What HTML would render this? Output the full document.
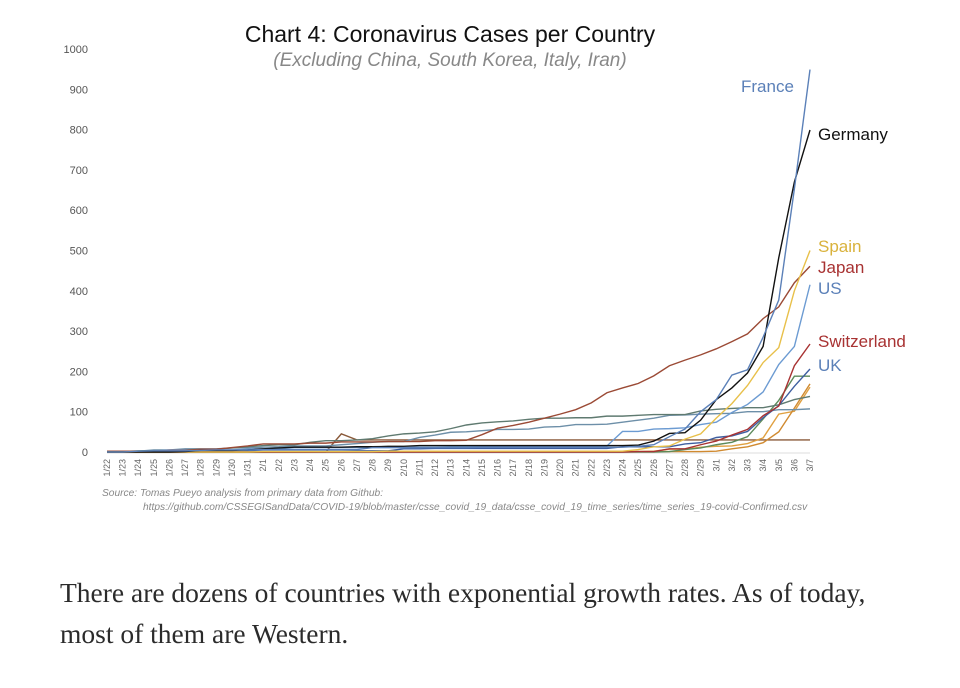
<!DOCTYPE html>
<html><head><meta charset="utf-8"><style>
html,body{margin:0;padding:0;background:#fff;width:960px;height:688px;overflow:hidden}
svg{position:absolute;left:0;top:0}
.body{position:absolute;left:60px;top:572px;width:900px;font-family:"Liberation Serif",serif;font-size:27.5px;line-height:41px;color:#2b2b2b;white-space:nowrap}
</style></head><body>
<svg id="chart" width="960" height="540"></svg>
<div class="body">There are dozens of countries with exponential growth rates. As of today,<br>most of them are Western.</div>
<script>
const dates=["1/22","1/23","1/24","1/25","1/26","1/27","1/28","1/29","1/30","1/31","2/1","2/2","2/3","2/4","2/5","2/6","2/7","2/8","2/9","2/10","2/11","2/12","2/13","2/14","2/15","2/16","2/17","2/18","2/19","2/20","2/21","2/22","2/23","2/24","2/25","2/26","2/27","2/28","2/29","3/1","3/2","3/3","3/4","3/5","3/6","3/7"];
const yTicks=[0,100,200,300,400,500,600,700,800,900,1000];
const france=[0,0,2,3,3,3,4,5,5,5,6,6,6,6,6,6,6,11,11,11,11,11,11,11,12,12,12,12,12,12,12,12,12,12,14,18,38,57,100,130,191,204,285,377,653,949];
const germany=[0,0,0,0,0,1,4,4,4,5,8,10,12,12,12,12,13,13,14,14,16,16,16,16,16,16,16,16,16,16,16,16,16,16,17,27,46,48,79,130,159,196,262,482,670,799];
const spain=[0,0,0,0,0,0,0,0,0,0,1,1,1,1,1,1,1,1,2,2,2,2,2,2,2,2,2,2,2,2,2,2,2,2,6,13,15,32,45,84,120,165,222,259,400,500];
const japan=[2,2,2,2,4,4,7,7,11,15,20,20,20,22,22,25,25,25,26,26,26,28,28,29,43,59,66,74,84,94,105,122,147,159,170,189,214,228,241,256,274,293,331,360,420,461];
const us=[1,1,2,2,5,5,5,5,5,7,8,8,11,11,11,11,11,11,11,11,12,12,13,13,13,13,13,13,13,13,15,15,15,51,51,57,58,60,68,74,98,118,149,217,262,415];
const switzerland=[0,0,0,0,0,0,0,0,0,0,0,0,0,0,0,0,0,0,0,0,0,0,0,0,0,0,0,0,0,0,0,0,0,0,1,1,8,8,18,27,42,56,90,114,214,268];
const uk=[0,0,0,0,0,0,0,0,0,2,2,2,2,2,2,2,3,3,3,8,8,9,9,9,9,9,9,9,9,9,9,9,9,13,13,13,13,20,23,36,40,51,85,115,163,206];
const singapore=[0,1,3,3,4,5,7,7,10,13,16,18,18,24,28,28,30,33,40,45,47,50,58,67,72,75,77,81,84,84,85,85,89,89,91,93,93,93,102,106,108,110,110,117,130,138];
const hongkong=[0,2,2,5,5,8,8,8,10,10,12,13,15,15,15,18,21,24,26,26,36,42,49,50,53,56,56,57,62,63,68,68,69,74,79,84,91,92,94,95,96,100,100,105,105,107];
const others=[0,0,0,0,0,0,0,0,0,0,0,0,0,0,0,45,30,30,30,30,30,30,30,30,30,30,30,30,30,30,30,30,30,30,30,30,30,30,30,30,30,30,30,30,30,30];
const netherlands=[0,0,0,0,0,0,0,0,0,0,0,0,0,0,0,0,0,0,0,0,0,0,0,0,0,0,0,0,0,0,0,0,0,0,0,0,1,6,10,18,24,38,82,128,188,188];
const belgium=[0,0,0,0,0,0,0,0,0,0,0,0,0,0,1,1,1,1,1,1,1,1,1,1,1,1,1,1,1,1,1,1,1,1,1,1,1,1,1,2,8,13,23,50,109,169];
const sweden=[0,0,0,0,0,0,0,0,0,1,1,1,1,1,1,1,1,1,1,1,1,1,1,1,1,1,1,1,1,1,1,1,1,1,1,2,7,7,12,14,15,21,35,94,101,161];
const svg=document.getElementById('chart');
const NS='http://www.w3.org/2000/svg';
const X0=107,X1=810,Y0=452,Y1=49;
function xs(i){return X0+(X1-X0)*i/(dates.length-1);}
function ys(v){return Y0-(Y0-Y1)*v/1000;}
function mk(tag,attrs,parent){const e=document.createElementNS(NS,tag);for(const k in attrs)e.setAttribute(k,attrs[k]);(parent||svg).appendChild(e);return e;}
let t=mk('text',{x:450,y:42,'text-anchor':'middle','font-family':'Liberation Sans, sans-serif','font-size':'23',fill:'#111'});t.textContent='Chart 4: Coronavirus Cases per Country';


t=mk('text',{x:450,y:66,'text-anchor':'middle','font-family':'Liberation Sans, sans-serif','font-size':'19','font-style':'italic',fill:'#888'});t.textContent='(Excluding China, South Korea, Italy, Iran)';


yTicks.forEach(v=>{const e=mk('text',{x:88,y:ys(v)+4,'text-anchor':'end','font-family':'Liberation Sans, sans-serif','font-size':'11',fill:'#555'});e.textContent=v;

});
mk('line',{x1:X0,y1:Y0+1,x2:X1,y2:Y0+1,stroke:'#ddd','stroke-width':1});
dates.forEach((d,i)=>{const x=xs(i)+3,y=459;const e=mk('text',{x:x,y:y,transform:`rotate(-90 ${x} ${y})`,'text-anchor':'end','font-family':'Liberation Sans, sans-serif','font-size':'9',fill:'#666'});e.textContent=d;

});
const series=[
 [others,'#8a5a3a','others-line'],[sweden,'#e0a040','sweden-line'],[belgium,'#d08a30','belgium-line'],[netherlands,'#5d8a5a','netherlands-line'],
 [hongkong,'#6d8fa8','hongkong-line'],[singapore,'#5f7a70','singapore-line'],
 [uk,'#3f5fa0','uk-line'],[switzerland,'#a83232','switzerland-line'],[us,'#6c9bd2','us-line'],
 [japan,'#9b4a35','japan-line'],[spain,'#e8c04a','spain-line'],[germany,'#111111','germany-line'],[france,'#5b80b8','france-line']];
series.forEach(([arr,c,n])=>{const p=mk('polyline',{points:arr.map((v,i)=>xs(i)+','+ys(v)).join(' '),fill:'none',stroke:c,'stroke-width':1.4});

});
const labels=[['France',741,92,'#5b80b8'],['Germany',818,140,'#111'],['Spain',818,252,'#d9b23c'],['Japan',818,273,'#a83232'],['US',818,294,'#5b80b8'],['Switzerland',818,347,'#a83232'],['UK',818,371,'#5b80b8']];
labels.forEach(([s,x,y,c])=>{const e=mk('text',{x:x,y:y,'font-family':'Liberation Sans, sans-serif','font-size':'17',fill:c});e.textContent=s;

});
t=mk('text',{x:102,y:496,'font-family':'Liberation Sans, sans-serif','font-size':'10.2','font-style':'italic',fill:'#888'});t.textContent='Source: Tomas Pueyo analysis from primary data from Github:';


t=mk('text',{x:143,y:510,'font-family':'Liberation Sans, sans-serif','font-size':'10.2','font-style':'italic',fill:'#888'});t.textContent='https://github.com/CSSEGISandData/COVID-19/blob/master/csse_covid_19_data/csse_covid_19_time_series/time_series_19-covid-Confirmed.csv';


</script>
</body></html>
